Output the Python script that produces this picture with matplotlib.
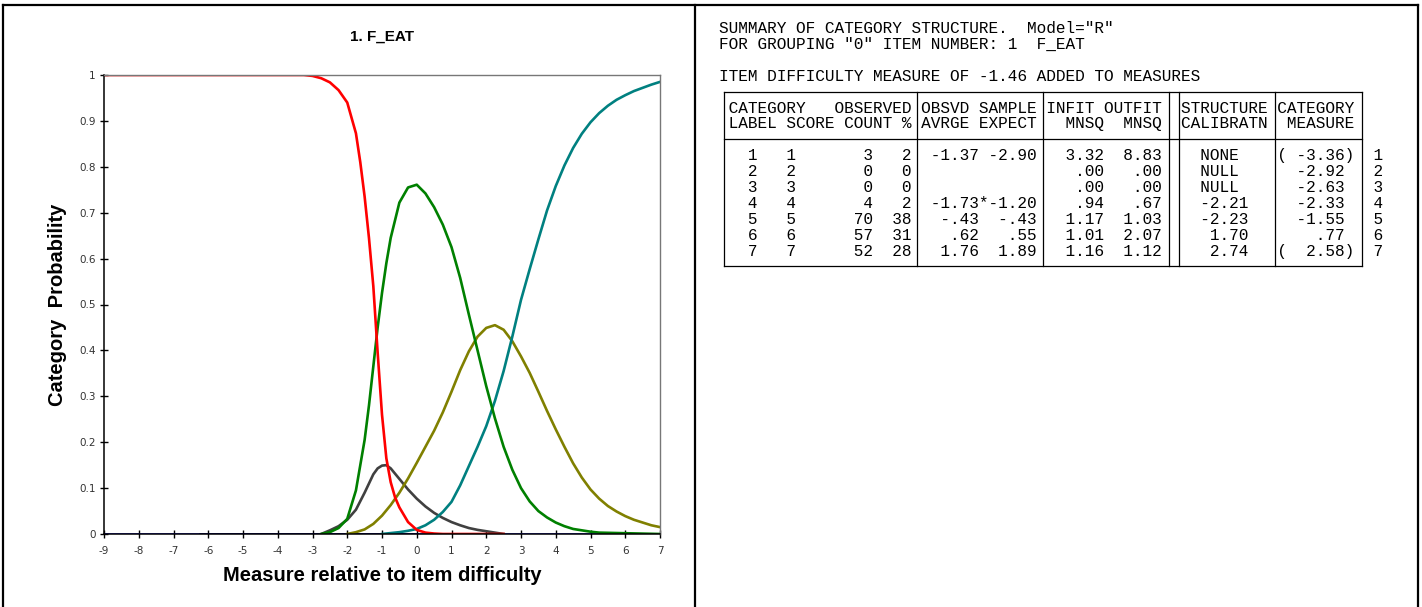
import numpy as np
import matplotlib.pyplot as plt
from matplotlib.lines import Line2D

plt.rcParams['axes.unicode_minus'] = False

W, H = 1422, 607

# ---- category probability curves ----
# x = measure relative to item difficulty, y = probability
cat1_x = [-9, -3.25, -3.0, -2.75, -2.5, -2.25, -2.0, -1.75, -1.625, -1.5, -1.375, -1.25, -1.125,
          -1.0, -0.875, -0.75, -0.625, -0.5, -0.25, 0.0, 0.25, 0.5, 0.75, 2.5]
cat1_y = [1.0, 1.0, 0.998, 0.993, 0.984, 0.967, 0.94, 0.873, 0.81, 0.735, 0.645, 0.54, 0.395,
          0.26, 0.165, 0.113, 0.08, 0.058, 0.026, 0.009, 0.003, 0.001, 0.0, 0.0]

cat4_x = [-2.75, -2.5, -2.25, -2.0, -1.75, -1.5, -1.25, -1.125, -1.0, -0.875, -0.75, -0.5, -0.25,
          0.0, 0.25, 0.5, 0.75, 1.0, 1.25, 1.5, 1.75, 2.0, 2.5]
cat4_y = [0.0, 0.008, 0.017, 0.031, 0.053, 0.09, 0.13, 0.143, 0.149, 0.15, 0.143, 0.12, 0.097,
          0.077, 0.06, 0.046, 0.035, 0.026, 0.019, 0.013, 0.009, 0.006, 0.0]

cat5_x = [-2.75, -2.5, -2.25, -2.0, -1.75, -1.5, -1.375, -1.25, -1.125, -1.0, -0.875, -0.75, -0.5,
          -0.25, 0.0, 0.25, 0.5, 0.75, 1.0, 1.25, 1.5, 1.75, 2.0, 2.25, 2.5, 2.75, 3.0, 3.25,
          3.5, 3.75, 4.0, 4.25, 4.5, 4.75, 5.0, 5.25, 7.0]
cat5_y = [0.0, 0.004, 0.013, 0.033, 0.095, 0.205, 0.28, 0.365, 0.45, 0.525, 0.59, 0.645, 0.722,
          0.755, 0.761, 0.742, 0.712, 0.674, 0.625, 0.558, 0.478, 0.40, 0.322, 0.252, 0.19, 0.14,
          0.1, 0.071, 0.05, 0.036, 0.025, 0.017, 0.011, 0.008, 0.005, 0.003, 0.0]

cat6_x = [-2.0, -1.75, -1.5, -1.25, -1.0, -0.75, -0.5, -0.25, 0.0, 0.25, 0.5, 0.75, 1.0, 1.25,
          1.5, 1.75, 2.0, 2.25, 2.5, 2.75, 3.0, 3.25, 3.5, 3.75, 4.0, 4.25, 4.5, 4.75, 5.0,
          5.25, 5.5, 5.75, 6.0, 6.25, 6.5, 6.75, 7.0]
cat6_y = [0.0, 0.004, 0.01, 0.022, 0.04, 0.063, 0.09, 0.121, 0.155, 0.19, 0.225, 0.265, 0.31,
          0.357, 0.398, 0.43, 0.449, 0.455, 0.445, 0.42, 0.387, 0.351, 0.31, 0.268, 0.228,
          0.19, 0.154, 0.123, 0.097, 0.077, 0.061, 0.049, 0.039, 0.031, 0.025, 0.019, 0.015]

cat7_x = [-1.0, -0.75, -0.5, -0.25, 0.0, 0.25, 0.5, 0.75, 1.0, 1.25, 1.5, 1.75, 2.0, 2.25, 2.5,
          2.75, 3.0, 3.25, 3.5, 3.75, 4.0, 4.25, 4.5, 4.75, 5.0, 5.25, 5.5, 5.75, 6.0, 6.25,
          6.5, 6.75, 7.0]
cat7_y = [0.0, 0.002, 0.004, 0.007, 0.011, 0.019, 0.031, 0.048, 0.07, 0.106, 0.148, 0.19, 0.235,
          0.29, 0.355, 0.43, 0.51, 0.577, 0.642, 0.705, 0.758, 0.803, 0.841, 0.872, 0.897,
          0.917, 0.933, 0.946, 0.956, 0.965, 0.972, 0.979, 0.985]

# null categories 2 and 3 sit on zero
cat2_x = [-9, 7]
cat2_y = [0.0, 0.0]
cat3_x = [-6.25, 0.0]
cat3_y = [0.0, 0.0]

x_ticks = list(range(-9, 8))
y_ticks = [0, 0.1, 0.2, 0.3, 0.4, 0.5, 0.6, 0.7, 0.8, 0.9, 1]
y_tick_labels = ['0', '0.1', '0.2', '0.3', '0.4', '0.5', '0.6', '0.7', '0.8', '0.9', '1']

# ---- summary table ----
cat_label = ['1', '2', '3', '4', '5', '6', '7']
cat_score = ['1', '2', '3', '4', '5', '6', '7']
obs_count = ['3', '0', '0', '4', '70', '57', '52']
obs_pct = ['2', '0', '0', '2', '38', '31', '28']
obsvd_avg = ['-1.37', '', '', '-1.73*', '-.43', '.62', '1.76']
sample_exp = ['-2.90', '', '', '-1.20', '-.43', '.55', '1.89']
infit = ['3.32', '.00', '.00', '.94', '1.17', '1.01', '1.16']
outfit = ['8.83', '.00', '.00', '.67', '1.03', '2.07', '1.12']
struct_cal = ['NONE', 'NULL', 'NULL', '-2.21', '-2.23', '1.70', '2.74']
cat_measure = ['( -3.36)', '-2.92 ', '-2.63 ', '-2.33 ', '-1.55 ', '.77 ', '(  2.58)']

fig = plt.figure(figsize=(W / 100, H / 100), dpi=100)

def fx(px):
    return px / W

def fy(py):
    return 1 - py / H

# panel frame
for x0 in (3, 695, 1418):
    fig.add_artist(Line2D([fx(x0), fx(x0)], [fy(5), fy(607)], color='black', lw=1.6))
fig.add_artist(Line2D([fx(3), fx(1418)], [fy(5), fy(5)], color='black', lw=1.6))

# ---- probability plot ----
ax = fig.add_axes([fx(104), fy(534), fx(660) - fx(104), fy(75) - fy(534)])
lw = 1.9
ax.plot(cat2_x, cat2_y, color='#1010e0', lw=lw)
ax.plot(cat3_x, cat3_y, color='#000070', lw=lw)
ax.plot(cat4_x, cat4_y, color='#404040', lw=lw)
ax.plot(cat6_x, cat6_y, color='#808000', lw=lw)
ax.plot(cat7_x, cat7_y, color='#008080', lw=lw)
ax.plot(cat5_x, cat5_y, color='#008000', lw=lw)
ax.plot(cat1_x, cat1_y, color='#ff0000', lw=lw)

ax.set_xlim(-9, 7)
ax.set_ylim(0, 1)
ax.set_xticks(x_ticks)
ax.set_yticks(y_ticks)
ax.set_yticklabels(y_tick_labels)
ax.tick_params(direction='inout', length=6, width=1, labelsize=7.5, labelcolor='#333333')
ax.tick_params(axis='x', pad=6)
ax.tick_params(axis='y', pad=3)
for s in ('left', 'bottom'):
    ax.spines[s].set_color('black')
    ax.spines[s].set_linewidth(1.1)
for s in ('top', 'right'):
    ax.spines[s].set_color('#777777')
    ax.spines[s].set_linewidth(1.0)

ax.set_title('1. F_EAT', fontsize=11, fontweight='bold', family='Liberation Sans', pad=25)
ax.set_xlabel('Measure relative to item difficulty', fontsize=14.5, fontweight='bold',
              family='Liberation Sans', labelpad=7)
ax.set_ylabel('Category  Probability', fontsize=14.5, fontweight='bold',
              family='Liberation Sans', labelpad=9)

# ---- text summary on the right ----
mono = dict(family='Liberation Mono', fontsize=11.6, color='black')
cw = 9.67
x0 = 719.2
pitch = 15.9
base0 = 33

def put(line_no, text):
    fig.text(fx(x0), fy(base0 + pitch * line_no), text, va='baseline', ha='left', **mono)

put(0, 'SUMMARY OF CATEGORY STRUCTURE.  Model="R"')
put(1, 'FOR GROUPING "0" ITEM NUMBER: 1  F_EAT')
put(3, 'ITEM DIFFICULTY MEASURE OF -1.46 ADDED TO MEASURES')
put(5, ' CATEGORY   OBSERVED OBSVD SAMPLE INFIT OUTFIT  STRUCTURE CATEGORY')
put(6, ' LABEL SCORE COUNT %'.ljust(20) + ' AVRGE EXPECT   MNSQ  MNSQ  CALIBRATN  MEASURE')
for i in range(len(cat_label)):
    row = (' ' + cat_label[i].rjust(3) + cat_score[i].rjust(4) + obs_count[i].rjust(8)
           + obs_pct[i].rjust(4) + ' ')
    avg = obsvd_avg[i]
    if avg.endswith('*'):
        row += avg.rjust(7) + sample_exp[i].rjust(5) + ' '
    else:
        row += avg.rjust(6) + sample_exp[i].rjust(6) + ' '
    row += infit[i].rjust(6) + outfit[i].rjust(6) + '  '
    row += struct_cal[i].rjust(7 if struct_cal[i][-1].isdigit() else 6).ljust(9) + ' '
    row += cat_measure[i].rjust(8) + ' ' + ' ' + cat_label[i]
    put(8 + i, row)

# table rules
top_y = base0 + pitch * 4 - 5
sep_y = base0 + pitch * 7 - 5
bot_y = base0 + pitch * 15 - 5
col_px = lambda c: x0 + (c + 0.5) * cw
for yy in (top_y, sep_y, bot_y):
    fig.add_artist(Line2D([fx(col_px(0)), fx(col_px(66))], [fy(yy), fy(yy)], color='black', lw=0.9))
for c in (0, 20, 33, 46, 47, 57, 66):
    fig.add_artist(Line2D([fx(col_px(c)), fx(col_px(c))], [fy(top_y), fy(bot_y)], color='black', lw=0.9))

fig.savefig('out.png', dpi=100)
